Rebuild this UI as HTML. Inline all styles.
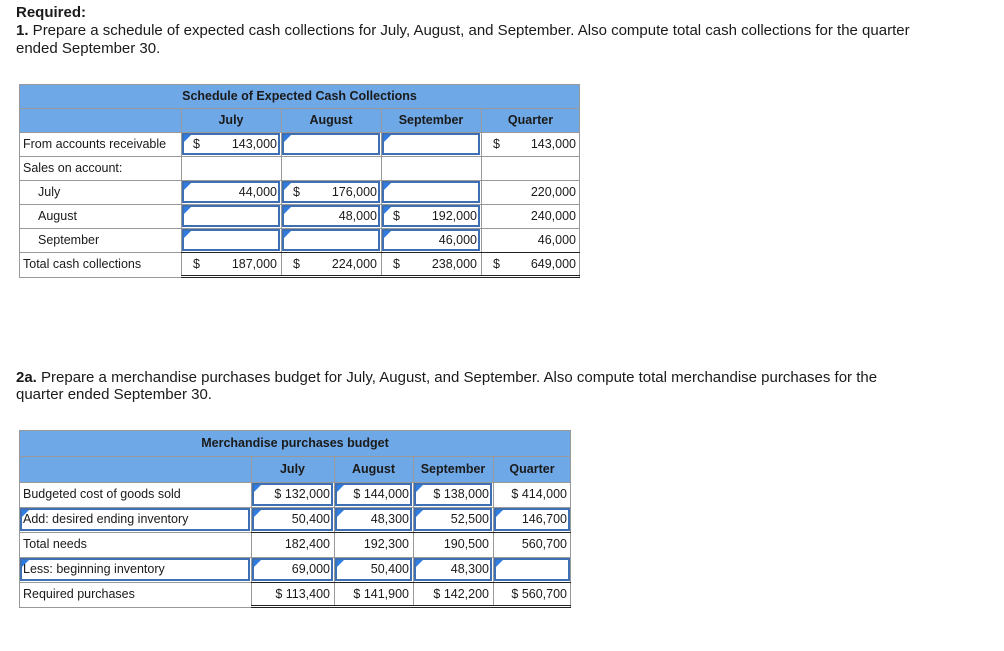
<!DOCTYPE html>
<html><head><meta charset="utf-8">
<style>
body{margin:0;width:1004px;height:651px;background:#fff;font-family:"Liberation Sans",Arial,sans-serif;color:#1a1a1a;position:relative;overflow:hidden}
.t{position:absolute;font-size:15px;line-height:18px;white-space:nowrap}
.c{position:absolute;box-sizing:border-box;font-size:12.5px;line-height:14px;white-space:nowrap}
.hd{background:#6fa8e6;font-weight:bold;text-align:center}
.inp{border:2px solid #3e6fb3;}
.tri{position:absolute;left:0;top:0;width:0;height:0;border-top:7px solid #2f7de1;border-right:7px solid transparent}
.ln{position:absolute;background:#999}
</style></head><body>
<div class="t" style="left:16px;top:4px;font-weight:bold">Required:</div>
<div class="t" style="left:16px;top:22px"><b>1.</b> Prepare a schedule of expected cash collections for July, August, and September. Also compute total cash collections for the quarter</div>
<div class="t" style="left:16px;top:40px">ended September 30.</div>
<div class="t" style="left:16px;top:369px"><b>2a.</b> Prepare a merchandise purchases budget for July, August, and September. Also compute total merchandise purchases for the</div>
<div class="t" style="left:16px;top:386px">quarter ended September 30.</div>
<div id="root"></div>
<script>
var root=document.getElementById('root');
function mk(cls,x,y,w,h){var d=document.createElement('div');d.className=cls;d.style.left=x+'px';d.style.top=y+'px';d.style.width=w+'px';d.style.height=h+'px';root.appendChild(d);return d;}
function line(x,y,w,h,col){var d=mk('ln',x,y,w,h);if(col)d.style.background=col;

}
function txt(x,y,w,h,s,align,bold,name){var d=mk('c',x,y,w,h);d.style.lineHeight=h+'px';d.style.textAlign=align||'left';if(bold)d.style.fontWeight='bold';d.textContent=s;

return d;}
function inp(x,y,w,h,name){var d=mk('c inp',x+1,y+1,w-2,h-2);var t=document.createElement('div');t.className='tri';d.appendChild(t);

}

/* Table 1 */
var c1=[19,181,281,381,481,580];
var r1=[84,108,132,156,180,204,228,252,276];
var h1=mk('c hd',19,84,561,48);


txt(19,84,561,24,'Schedule of Expected Cash Collections','center',true,'table-title');
var mon=['July','August','September','Quarter'];
for(var i=0;i<4;i++)txt(c1[i+1],108,c1[i+2]-c1[i+1],24,mon[i],'center',true,'column-header');
for(var i=1;i<r1.length-1;i++)line(19,r1[i],561,1);
for(var i=1;i<5;i++)line(c1[i],108,1,168);
line(19,84,561,1);line(19,84,1,194);line(579,84,1,194);line(19,277,561,1);
line(181,252,399,1,'#222');line(181,275,399,1,'#222');line(181,277,399,1,'#222');
var lab1=['From accounts receivable','Sales on account:','July','August','September','Total cash collections'];
var ind1=[4,4,19,19,19,4];
var vals1=[['$|143,000','','','$|143,000'],['','','',''],['44,000','$|176,000','','220,000'],['','48,000','$|192,000','240,000'],['','','46,000','46,000'],['$|187,000','$|224,000','$|238,000','$|649,000']];
var inp1=[[1,1,1,0],[0,0,0,0],[1,1,1,0],[1,1,1,0],[1,1,1,0],[0,0,0,0]];
for(var r=0;r<6;r++){
 txt(19+ind1[r],r1[r+2],160,24,lab1[r],'left',false,'row-label');
 for(var k=0;k<4;k++){var x=c1[k+1],w=c1[k+2]-x,y=r1[r+2];
  if(inp1[r][k])inp(x,y,w,24,'input-cell');
  var v=vals1[r][k];
  if(v.indexOf('|')>=0){var p=v.split('|');txt(x+12,y,12,24,p[0],'left',false,'dollar-sign');v=p[1];}
  if(v)txt(x,y,w-4,24,v,'right',false,'value-cell');}
}

/* Table 2 */
var c2=[19,251,334,413,493,571];
var r2=[430,456,482,507,532,557,582,607];
var h2=mk('c hd',19,430,552,52);


txt(19,430,552,26,'Merchandise purchases budget','center',true,'table-title');
for(var i=0;i<4;i++)txt(c2[i+1],456,c2[i+2]-c2[i+1],26,mon[i],'center',true,'column-header');
for(var i=1;i<r2.length-1;i++)line(19,r2[i],552,1);
for(var i=1;i<5;i++)line(c2[i],456,1,150);
line(19,430,552,1);line(19,430,1,178);line(570,430,1,178);line(19,607,552,1);
line(251,532,320,1,'#222');line(251,582,320,1,'#222');line(251,605,320,1,'#222');line(251,607,320,1,'#222');
var lab2=['Budgeted cost of goods sold','Add: desired ending inventory','Total needs','Less: beginning inventory','Required purchases'];
var vals2=[['$ 132,000','$ 144,000','$ 138,000','$ 414,000'],['50,400','48,300','52,500','146,700'],['182,400','192,300','190,500','560,700'],['69,000','50,400','48,300',''],['$ 113,400','$ 141,900','$ 142,200','$ 560,700']];
var inpL=[0,1,0,1,0];
var inp2=[[1,1,1,0],[1,1,1,1],[0,0,0,0],[1,1,1,1],[0,0,0,0]];
for(var r=0;r<5;r++){var y=r2[r+2],h=r2[r+3]-y;
 if(inpL[r])inp(19,y,232,h,'label-input');
 txt(23,y,220,h,lab2[r],'left',false,'row-label');
 for(var k=0;k<4;k++){var x=c2[k+1],w=c2[k+2]-x;
  if(inp2[r][k])inp(x,y,w,h,'input-cell');
  if(vals2[r][k])txt(x,y,w-4,h,vals2[r][k],'right',false,'value-cell');}
}
</script>
</body></html>
